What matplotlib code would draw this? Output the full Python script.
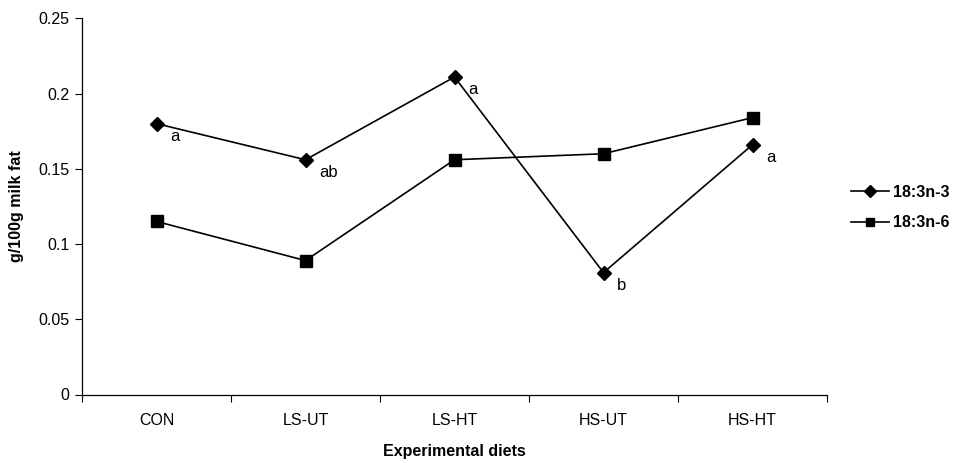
import matplotlib
matplotlib.use("Agg")
import matplotlib.pyplot as plt

plt.rcParams['font.family'] = ['Liberation Sans', 'DejaVu Sans']

diets = ["CON", "LS-UT", "LS-HT", "HS-UT", "HS-HT"]
n3 = [0.180, 0.156, 0.211, 0.081, 0.166]
n6 = [0.115, 0.089, 0.156, 0.160, 0.184]
n3_letters = ["a", "ab", "a", "b", "a"]

fig = plt.figure(figsize=(9.59, 4.63), dpi=100)
ax = fig.add_axes([82 / 959, 68.5 / 463, 745 / 959, 376.2 / 463])

x = [i + 0.5 for i in range(len(diets))]
ax.plot(x, n3, color="black", lw=1.2, marker="D", ms=7, label="18:3n-3")
ax.plot(x, n6, color="black", lw=1.2, marker="s", ms=8, label="18:3n-6")

# letters next to the n-3 points
for xi, yi, t in zip(x, n3, n3_letters):
    ax.annotate(t, (xi, yi), xytext=(10, -9), textcoords="offset points",
                ha="left", va="center", fontsize=12)

ax.set_xlim(0, 5)
ax.set_ylim(0, 0.25)
ax.set_xticks(range(6))
ax.set_xticklabels([])
ax.set_xticks(x, minor=True)
ax.set_xticklabels(diets, minor=True)
ax.tick_params(axis="x", which="minor", length=0, pad=13, labelsize=11.5)
ax.tick_params(axis="x", which="major", length=5, direction="out")
ax.set_yticks([0, 0.05, 0.1, 0.15, 0.2, 0.25])
ax.set_yticklabels(["0", "0.05", "0.1", "0.15", "0.2", "0.25"])
ax.tick_params(axis="y", length=5, direction="out", labelsize=11.5, pad=4)

for s in ["top", "right"]:
    ax.spines[s].set_visible(False)
ax.spines["left"].set_linewidth(0.9)
ax.spines["bottom"].set_linewidth(0.9)

ax.set_xlabel("Experimental diets", fontsize=11.5, fontweight="bold", labelpad=12)
ax.set_ylabel("g/100g milk fat", fontsize=11.5, fontweight="bold", labelpad=10)

leg = ax.legend(loc="center left", bbox_to_anchor=(1.013, 0.497), frameon=False,
                prop={"weight": "bold", "size": 11.5}, handlelength=2.4,
                handletextpad=0.2, labelspacing=0.95)
for h in leg.legend_handles:
    h.set_markersize(6)

plt.savefig("out.png", dpi=100)
